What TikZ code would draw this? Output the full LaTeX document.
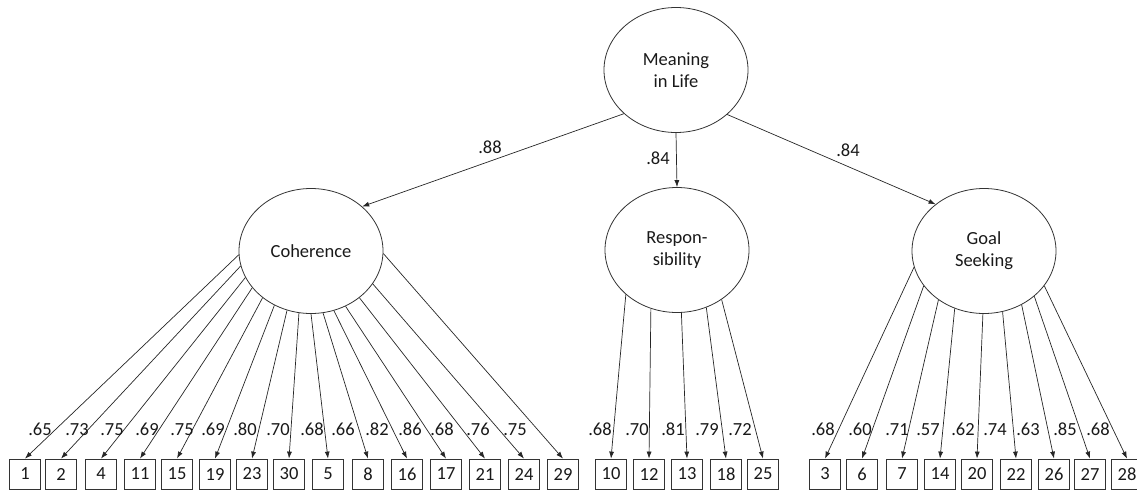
\documentclass[tikz,border=0pt]{standalone}
\usepackage{fontspec}
\setmainfont{Carlito}
\usetikzlibrary{shapes.geometric,arrows.meta}
\begin{document}
\begin{tikzpicture}[x=1pt,y=-1pt,
  lat/.style={draw=black!80,line width=0.8pt,ellipse,minimum width=144pt,minimum height=125pt,inner sep=0pt,align=center,text=black!90},
  ind/.style={draw=black!80,line width=0.8pt,minimum width=31pt,minimum height=30pt,inner sep=0pt,text=black!90},
  arr/.style={draw=black!85,line width=0.7pt,-{Latex[length=7pt,width=5pt]}},
  lab/.style={anchor=base,inner sep=0pt,text=black!90},
  font=\fontsize{18.5}{22}\selectfont]
\useasboundingbox (0,0) rectangle (1137,490);
\node[lat] (mil) at (676,70) {Meaning\\in Life};
\node[lat] (coh) at (311,251) {Coherence};
\node[lat] (res) at (677,250) {Respon-\\sibility};
\node[lat] (goa) at (984,251) {Goal\\Seeking};
\draw[arr] (mil.220) -- (coh.41);
\draw[arr] (mil.south) -- (res.north);
\draw[arr] (mil.-41) -- (goa.136);
\node[lab] (l88) at (490,153) {.88};
\node[lab] (l84a) at (658,164) {.84};
\node[lab] (l84b) at (848,156) {.84};
\foreach \nn/\xx/\ang/\lab/\lx in {1/25/183/.65/40, 2/61/192/.73/77, 4/101/202/.75/112, 11/140/212/.69/147, 15/177/224/.75/182, 19/215/236/.69/213, 23/252/248/.80/245, 30/289/259/.70/278, 5/328/270/.68/312, 8/368/281/.66/343, 16/407/291/.82/377, 17/446/302/.86/410, 21/485/316/.68/442, 24/524/332/.76/478, 29/563/358/.75/515}{
  \node[ind] (b\nn) at (\xx,474) {\nn};
  \draw[arr] (coh.\ang) -- (b\nn.north);
  \node[lab] (l\nn) at (\lx,435) {\lab};
}
\foreach \nn/\xx/\ang/\lab/\lx in {10/611/221/.68/600, 12/649/246/.70/637, 13/687/274/.81/673, 18/726/297/.79/707, 25/763/312/.72/740}{
  \node[ind] (b\nn) at (\xx,474) {\nn};
  \draw[arr] (res.\ang) -- (b\nn.north);
  \node[lab] (l\nn) at (\lx,435) {\lab};
}
\foreach \nn/\xx/\ang/\lab/\lx in {3/825/193/.68/823, 6/862/210/.60/860, 7/902/227/.71/897, 14/940/243/.57/928, 20/977/269/.62/963, 22/1016/287/.74/995, 26/1054/305/.63/1028, 27/1090/318/.85/1065, 28/1127/330/.68/1098}{
  \node[ind] (b\nn) at (\xx,474) {\nn};
  \draw[arr] (goa.\ang) -- (b\nn.north);
  \node[lab] (l\nn) at (\lx,435) {\lab};
}
\end{tikzpicture}
\end{document}
